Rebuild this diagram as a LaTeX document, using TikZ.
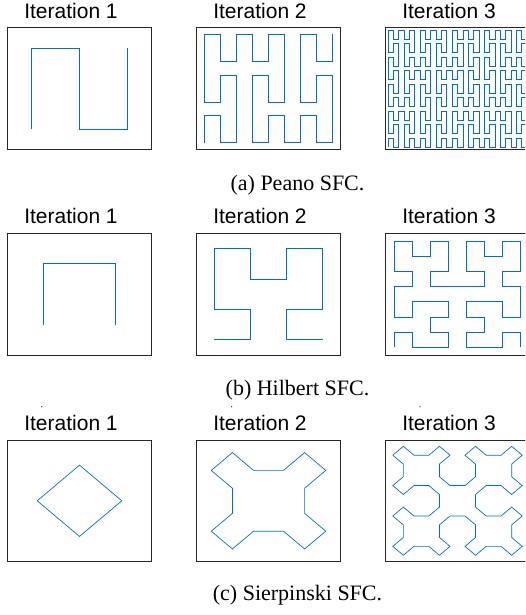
\documentclass[tikz,border=0pt]{standalone}
\usepackage{fontspec}
\setmainfont{Liberation Serif}
\setsansfont{Liberation Sans}
\usepackage{xcolor}
\usepackage{tikz}
\usetikzlibrary{lindenmayersystems}
\definecolor{matblue}{RGB}{0,114,189}

\pgfdeclarelindenmayersystem{peano}{
  \rule{X -> XFYFX-F-YFXFY+F+XFYFX}
  \rule{Y -> YFXFY+F+XFYFX-F-YFXFY}
}
\pgfdeclarelindenmayersystem{hilbert}{
  \rule{A -> +BF-AFA-FB+}
  \rule{B -> -AF+BFB+FA-}
}
\pgfdeclarelindenmayersystem{sierpinski}{
  \rule{X -> XF+F+XF--F--XF+F+X}
}

\begin{document}
\begin{tikzpicture}[x=1pt, y=1pt,
    axbox/.style={draw=black!85, line width=0.7pt},
    sfc/.style={matblue, line width=0.7pt},
    ittitle/.style={anchor=base, font=\sffamily\fontsize{21}{25}\selectfont},
    subcap/.style={anchor=base, font=\fontsize{22}{26}\selectfont}]
    \useasboundingbox (0,0) rectangle (525,615);
    \clip (0,0) rectangle (525,615);

    % Peano 曲线
    \node[ittitle] (pt1) at (71,596.7) {Iteration 1};
    \node[ittitle] (pt2) at (260,596.7) {Iteration 2};
    \node[ittitle] (pt3) at (449,596.7) {Iteration 3};
    \draw[axbox] (7.3,465.7) rectangle ++(144.4,121.6);
    \draw[axbox] (196.3,465.7) rectangle ++(144.4,121.6);
    \draw[axbox] (385.3,465.7) rectangle ++(144.4,121.6);
    \begin{scope}[shift={(31.367,485.967)}, xscale=48.133, yscale=40.533]
        \draw[sfc, l-system={peano, axiom=+X, order=1, step=1pt, angle=90}] (0,0) lindenmayer system;
    \end{scope}
    \begin{scope}[shift={(204.322,472.456)}, xscale=16.044, yscale=13.511]
        \draw[sfc, l-system={peano, axiom=+X, order=2, step=1pt, angle=90}] (0,0) lindenmayer system;
    \end{scope}
    \begin{scope}[shift={(387.974,467.952)}, xscale=5.348, yscale=4.504]
        \draw[sfc, l-system={peano, axiom=+X, order=3, step=1pt, angle=90}] (0,0) lindenmayer system;
    \end{scope}
    \node[subcap] (pcap) at (297.5,424.5) {(a) Peano SFC.};

    % Hilbert 曲线
    \node[ittitle] (ht1) at (71,391) {Iteration 1};
    \node[ittitle] (ht2) at (260,391) {Iteration 2};
    \node[ittitle] (ht3) at (449,391) {Iteration 3};
    \draw[axbox] (7.3,260) rectangle ++(144.4,121.6);
    \draw[axbox] (196.3,260) rectangle ++(144.4,121.6);
    \draw[axbox] (385.3,260) rectangle ++(144.4,121.6);
    \begin{scope}[shift={(43.4,290.4)}, xscale=72.2, yscale=60.8]
        \draw[sfc, l-system={hilbert, axiom=A, order=1, step=1pt, angle=90}] (0,0) lindenmayer system;
    \end{scope}
    \begin{scope}[shift={(214.35,275.2)}, xscale=36.1, yscale=30.4]
        \draw[sfc, l-system={hilbert, axiom=A, order=2, step=1pt, angle=90}] (0,0) lindenmayer system;
    \end{scope}
    \begin{scope}[shift={(394.325,267.6)}, xscale=18.05, yscale=15.2]
        \draw[sfc, l-system={hilbert, axiom=A, order=3, step=1pt, angle=90}] (0,0) lindenmayer system;
    \end{scope}
    \node[subcap] (hcap) at (297.5,219) {(b) Hilbert SFC.};

    % Sierpinski 曲线
    \fill[black!80] (41.7,208.3) circle (0.7);
    \fill[black!80] (231.7,208.3) circle (0.7);
    \fill[black!80] (420,208.3) circle (0.7);
    \node[ittitle] (st1) at (71,184) {Iteration 1};
    \node[ittitle] (st2) at (260,184) {Iteration 2};
    \node[ittitle] (st3) at (449,184) {Iteration 3};
    \draw[axbox] (7.3,53.4) rectangle ++(144.4,121.6);
    \draw[axbox] (196.3,53.4) rectangle ++(144.4,121.6);
    \draw[axbox] (385.3,53.4) rectangle ++(144.4,121.6);
    \begin{scope}[shift={(37.207,114.2)}, xscale=1.444, yscale=1.216]
        \draw[sfc, l-system={sierpinski, axiom=+F--XF--F--XF, order=0, step=41.421pt, angle=45}] (0,0) lindenmayer system;
    \end{scope}
    \begin{scope}[shift={(211.253,144.6)}, xscale=1.444, yscale=1.216]
        \draw[sfc, l-system={sierpinski, axiom=+F--XF--F--XF, order=1, step=20.711pt, angle=45}] (0,0) lindenmayer system;
    \end{scope}
    \begin{scope}[shift={(392.777,159.8)}, xscale=1.444, yscale=1.216]
        \draw[sfc, l-system={sierpinski, axiom=+F--XF--F--XF, order=2, step=10.355pt, angle=45}] (0,0) lindenmayer system;
    \end{scope}
    \node[subcap] (scap) at (297.5,14) {(c) Sierpinski SFC.};
\end{tikzpicture}
\end{document}
